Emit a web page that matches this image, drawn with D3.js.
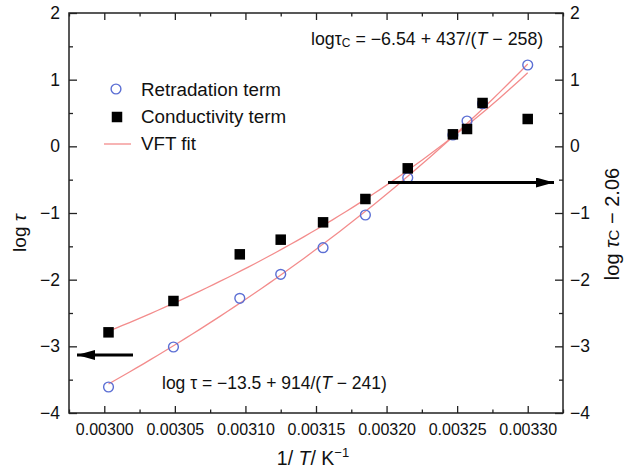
<!DOCTYPE html>
<html>
<head>
<meta charset="utf-8">
<script src="https://cdn.jsdelivr.net/npm/d3@7"></script>
<style>
  body { margin: 0; background: #fff; }
  svg { display: block; font-family: "Liberation Sans", Arial, Helvetica, sans-serif; }
</style>
</head>
<body>
<svg id="chart" width="635" height="471"></svg>
<script>
// ---- data ----
const invT = [0.003003, 0.003049, 0.003096, 0.003125, 0.003155, 0.003185, 0.003215, 0.003247, 0.003257, 0.003268, 0.003300];
const retardation = [-3.61, -3.01, -2.28, -1.92, -1.52, -1.03, -0.47, 0.17, 0.38, 0.64, 1.22];
const conductivity = [-2.79, -2.32, -1.62, -1.40, -1.14, -0.79, -0.33, 0.18, 0.26, 0.65, 0.41];
// VFT fit parameters shown on the chart: log = A + B/(T - T0), plus vertical offset
const vftRetardation = [-13.5, 914, 241, 0];
const vftConductivity = [-6.54, 437, 258, -2.06];
const xTicks = [0.00300, 0.00305, 0.00310, 0.00315, 0.00320, 0.00325, 0.00330];
const xMinorTicks = [0.002975, 0.003025, 0.003075, 0.003125, 0.003175, 0.003225, 0.003275, 0.003325];
const yTicks = [-4, -3, -2, -1, 0, 1, 2];
const yMinorTicks = [-3.5, -2.5, -1.5, -0.5, 0.5, 1.5];
const legendLabels = ["Retradation term", "Conductivity term", "VFT fit"];

// ---- layout ----
const svg = d3.select("#chart");
const L = 69, R = 563, T = 13, B = 413;
const x = d3.scaleLinear().domain([0.002975, 0.003325]).range([L, R]);
const y = d3.scaleLinear().domain([-4, 2]).range([B, T]);
const axisColor = "#222";
const lineColor = "#f38c8c";
const circleColor = "#5c6fd4";

function styleAxis(g, fontSize) {
  g.select(".domain").remove();
  g.selectAll(".tick line").attr("stroke", axisColor).attr("stroke-width", 1.3);
  g.selectAll(".tick text").attr("fill", "#111").style("font-size", fontSize + "px")
    .style("font-family", '"Liberation Sans", Arial, Helvetica, sans-serif');
}

// bottom
svg.append("g").attr("transform", `translate(0,${B})`)
  .call(d3.axisBottom(x).tickValues(xTicks).tickSize(-7).tickPadding(11).tickFormat(d3.format(".5f")))
  .call(g => styleAxis(g, 16));
svg.append("g").attr("transform", `translate(0,${B})`)
  .call(d3.axisBottom(x).tickValues(xMinorTicks).tickSize(-3.5).tickFormat(""))
  .call(g => styleAxis(g, 16));
// top
svg.append("g").attr("transform", `translate(0,${T})`)
  .call(d3.axisTop(x).tickValues(xTicks).tickSize(-7).tickFormat(""))
  .call(g => styleAxis(g, 16));
svg.append("g").attr("transform", `translate(0,${T})`)
  .call(d3.axisTop(x).tickValues(xMinorTicks).tickSize(-3.5).tickFormat(""))
  .call(g => styleAxis(g, 16));
// left
svg.append("g").attr("transform", `translate(${L},0)`)
  .call(d3.axisLeft(y).tickValues(yTicks).tickSize(-8).tickPadding(9).tickFormat(d3.format("d")))
  .call(g => styleAxis(g, 17.5));
svg.append("g").attr("transform", `translate(${L},0)`)
  .call(d3.axisLeft(y).tickValues(yMinorTicks).tickSize(-4).tickFormat(""))
  .call(g => styleAxis(g, 17.5));
// right
svg.append("g").attr("transform", `translate(${R},0)`)
  .call(d3.axisRight(y).tickValues(yTicks).tickSize(-8).tickPadding(7).tickFormat(d3.format("d")))
  .call(g => styleAxis(g, 17.5));
svg.append("g").attr("transform", `translate(${R},0)`)
  .call(d3.axisRight(y).tickValues(yMinorTicks).tickSize(-4).tickFormat(""))
  .call(g => styleAxis(g, 17.5));

// frame
svg.append("rect").attr("x", L).attr("y", T).attr("width", R - L).attr("height", B - T)
  .attr("fill", "none").attr("stroke", axisColor).attr("stroke-width", 1.5);

// ---- fit curves ----
function vft(p, xv) { const Tk = 1 / xv; return p[0] + p[1] / (Tk - p[2]) + p[3]; }
const xs = d3.range(0, 61).map(i => invT[0] + (invT[invT.length - 1] - invT[0]) * i / 60);
const line = d3.line().x(d => x(d[0])).y(d => y(d[1]));
[vftRetardation, vftConductivity].forEach(p => {
  svg.append("path").datum(xs.map(v => [v, vft(p, v)]))
    .attr("d", line).attr("fill", "none").attr("stroke", lineColor).attr("stroke-width", 1.3);
});

// ---- markers ----
svg.append("g").selectAll("circle").data(invT.map((v, i) => [v, retardation[i]])).join("circle")
  .attr("cx", d => x(d[0])).attr("cy", d => y(d[1])).attr("r", 4.9)
  .attr("fill", "none").attr("stroke", circleColor).attr("stroke-width", 1.4);
const sq = 10.5;
svg.append("g").selectAll("rect").data(invT.map((v, i) => [v, conductivity[i]])).join("rect")
  .attr("x", d => x(d[0]) - sq / 2).attr("y", d => y(d[1]) - sq / 2)
  .attr("width", sq).attr("height", sq).attr("fill", "#000");

// ---- arrows ----
const defs = svg.append("defs");
defs.append("marker").attr("id", "ah").attr("viewBox", "0 0 10 10").attr("refX", 10).attr("refY", 5)
  .attr("markerUnits", "userSpaceOnUse").attr("markerWidth", 18).attr("markerHeight", 10)
  .attr("orient", "auto").attr("preserveAspectRatio", "none")
  .append("path").attr("d", "M0,0 L10,5 L0,10 Z").attr("fill", "#000");
svg.append("line").attr("x1", 133).attr("y1", 355).attr("x2", 77).attr("y2", 355)
  .attr("stroke", "#000").attr("stroke-width", 3).attr("marker-end", "url(#ah)");
svg.append("line").attr("x1", 388).attr("y1", 182.5).attr("x2", 554).attr("y2", 182.5)
  .attr("stroke", "#000").attr("stroke-width", 3).attr("marker-end", "url(#ah)");

// ---- legend ----
const lg = svg.append("g").style("font-size", "18.8px").attr("fill", "#111");
lg.append("circle").attr("cx", 116).attr("cy", 89).attr("r", 4.9)
  .attr("fill", "none").attr("stroke", circleColor).attr("stroke-width", 1.4);
lg.append("rect").attr("x", 117 - sq / 2).attr("y", 117 - sq / 2).attr("width", sq).attr("height", sq).attr("fill", "#000");
lg.append("line").attr("x1", 104).attr("x2", 131).attr("y1", 144).attr("y2", 144)
  .attr("stroke", lineColor).attr("stroke-width", 1.3);
[96, 123, 150].forEach((yy, i) => {
  lg.append("text").attr("x", 141).attr("y", yy).text(legendLabels[i]);
});

// ---- equations ----
const eq1 = svg.append("text").attr("x", 311).attr("y", 45).style("font-size", "17.8px").attr("fill", "#111");
eq1.append("tspan").text("logτ");
eq1.append("tspan").text("C").style("font-size", "12px").attr("dy", 2);
eq1.append("tspan").text(" = −6.54 + 437/(").attr("dy", -2);
eq1.append("tspan").text("T").style("font-style", "italic");
eq1.append("tspan").text(" − 258)");

const eq2 = svg.append("text").attr("x", 162).attr("y", 389).style("font-size", "17.5px").attr("fill", "#111");
eq2.append("tspan").text("log τ = −13.5 + 914/(");
eq2.append("tspan").text("T").style("font-style", "italic");
eq2.append("tspan").text(" − 241)");

// ---- axis titles ----
const yl = svg.append("text").attr("transform", "translate(26,233) rotate(-90)")
  .attr("text-anchor", "middle").style("font-size", "19px").attr("fill", "#111");
yl.append("tspan").text("log ");
yl.append("tspan").text("τ").style("font-style", "italic");

const yr = svg.append("text").attr("transform", "translate(619,224) rotate(-90)")
  .attr("text-anchor", "middle").style("font-size", "20px").attr("fill", "#111");
yr.append("tspan").text("log ");
yr.append("tspan").text("τ").style("font-style", "italic");
yr.append("tspan").text("C").style("font-size", "15px");
yr.append("tspan").text(" − 2.06");

const xl = svg.append("text").attr("x", 313).attr("y", 465)
  .attr("text-anchor", "middle").style("font-size", "19.5px").attr("fill", "#111");
xl.append("tspan").text("1/ ");
xl.append("tspan").text("T").style("font-style", "italic");
xl.append("tspan").text("/ K");
xl.append("tspan").text("−1").style("font-size", "13px").attr("dy", -8);
</script>
</body>
</html>
